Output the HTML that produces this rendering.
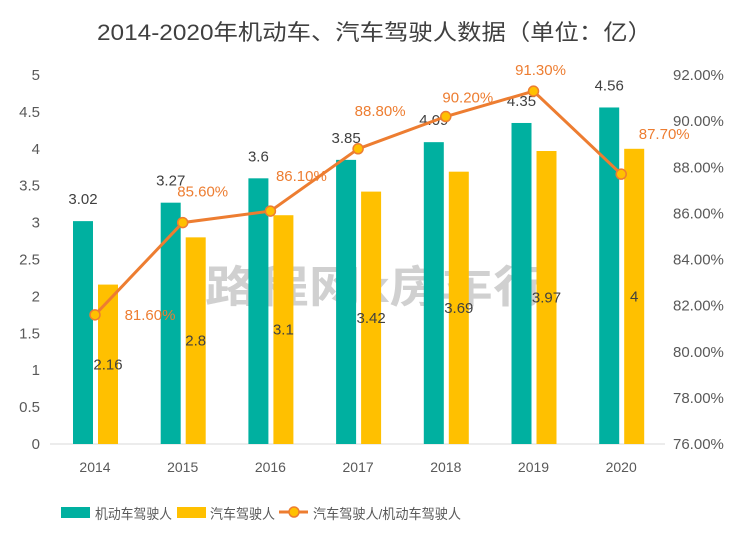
<!DOCTYPE html>
<html><head><meta charset="utf-8"><style>
body{margin:0;background:#fff;width:751px;height:543px;overflow:hidden}
svg text{font-family:"Liberation Sans","Noto Sans CJK SC",sans-serif}
</style></head><body>
<svg id="chart" width="751" height="543" viewBox="0 0 751 543">
<text x="97" y="40" textLength="555" lengthAdjust="spacingAndGlyphs" font-size="22" fill="#404040">2014-2020年机动车、汽车驾驶人数据（单位：亿）</text>
<text x="205" y="302" textLength="340" lengthAdjust="spacingAndGlyphs" font-size="44" font-weight="bold" fill="#c8c8c8" opacity="0.85">路程网x房车行</text>
<g id="g"></g>
<g>
<rect x="61" y="507" width="29" height="11" fill="#00b0a0"/>
<text x="95" y="519" font-size="14" textLength="77" lengthAdjust="spacingAndGlyphs" fill="#595959">机动车驾驶人</text>
<rect x="177" y="507" width="29" height="11" fill="#ffc000"/>
<text x="210" y="519" font-size="14" textLength="65" lengthAdjust="spacingAndGlyphs" fill="#595959">汽车驾驶人</text>
<line x1="279" y1="512" x2="308" y2="512" stroke="#ed7d31" stroke-width="3"/>
<circle cx="294" cy="512" r="5" fill="#ffc000" stroke="#ed7d31" stroke-width="1.5"/>
<text x="313" y="519" font-size="14" textLength="148" lengthAdjust="spacingAndGlyphs" fill="#595959">汽车驾驶人/机动车驾驶人</text>
</g>
</svg>
<script>
const years=["2014","2015","2016","2017","2018","2019","2020"];
const motor=[3.02,3.27,3.6,3.85,4.09,4.35,4.56];
const car=[2.16,2.8,3.1,3.42,3.69,3.97,4];
const ratio=[81.6,85.6,86.1,88.8,90.2,91.3,87.7];
const leftTicks=[0,0.5,1,1.5,2,2.5,3,3.5,4,4.5,5];
const rightTicks=[76,78,80,82,84,86,88,90,92];
const labDx=[55,20,31,22,22,7,43], labDy=[5,-26,-30,-33,-14,-16,-35];
const NS="http://www.w3.org/2000/svg",g=document.getElementById('g');
const y0=444,y1=75;
const yL=v=>y0-(v/5)*(y0-y1);
const yR=v=>y0-((v-76)/16)*(y0-y1);
const xC=i=>95+i*87.7;
function mk(t,a,txt){const e=document.createElementNS(NS,t);for(const k in a)e.setAttribute(k,a[k]);if(txt!==undefined)e.textContent=txt;g.appendChild(e);return e;}
let e=mk('line',{x1:50,x2:665,y1:y0,y2:y0,stroke:'#d9d9d9'});


leftTicks.forEach(v=>{const t=mk('text',{x:40,y:yL(v)+5,'text-anchor':'end','font-size':15,fill:'#595959'},String(v));

});
rightTicks.forEach(v=>{const t=mk('text',{x:673,y:yR(v)+5,'font-size':15,fill:'#595959'},v.toFixed(2)+'%');

});
years.forEach((y,i)=>{const x=xC(i);
const t=mk('text',{x:x,y:472,'text-anchor':'middle','font-size':14,fill:'#595959'},y);


const b1=mk('rect',{x:x-22,y:yL(motor[i]),width:20,height:y0-yL(motor[i]),fill:'#00b0a0'});


const b2=mk('rect',{x:x+3,y:yL(car[i]),width:20,height:y0-yL(car[i]),fill:'#ffc000'});


const l1=mk('text',{x:x-12,y:yL(motor[i])-17,'text-anchor':'middle','font-size':15,fill:'#404040'},String(motor[i]));


const l2=mk('text',{x:x+13,y:(yL(car[i])+y0)/2+5,'text-anchor':'middle','font-size':15,fill:'#404040'},String(car[i]));

});
const pts=ratio.map((r,i)=>xC(i)+','+yR(r)).join(' ');
e=mk('polyline',{points:pts,fill:'none',stroke:'#ed7d31','stroke-width':3});


ratio.forEach((r,i)=>{const x=xC(i),y=yR(r);
const c=mk('circle',{cx:x,cy:y,r:5,fill:'#ffc000',stroke:'#ed7d31','stroke-width':1.5});


const t=mk('text',{x:x+labDx[i],y:y+labDy[i],'text-anchor':'middle','font-size':15,fill:'#ed7d31'},r.toFixed(2)+'%');

});
</script>
</body></html>
